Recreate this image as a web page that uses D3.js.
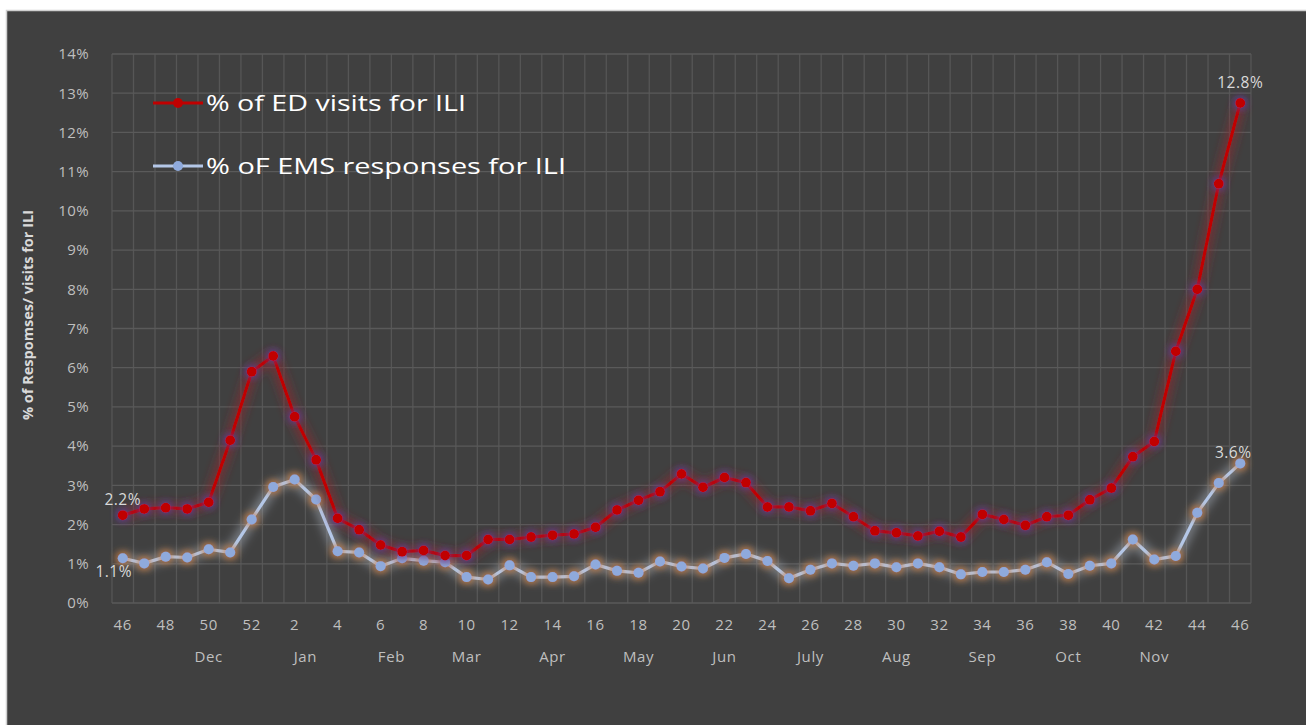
<!DOCTYPE html>
<html>
<head>
<meta charset="utf-8">
<script src="https://cdn.jsdelivr.net/npm/d3@7/dist/d3.min.js"></script>
<style>
  body { margin: 0; background: #ffffff; }
  #chart-area svg { display: block; }
</style>
</head>
<body>
<div id="chart-area"></div>
<script>
// weeks 46..52 of last year, then 1..46
const weeks = [46, 47, 48, 49, 50, 51, 52, 1, 2, 3, 4, 5, 6, 7, 8, 9, 10, 11, 12, 13, 14, 15,
    16, 17, 18, 19, 20, 21, 22, 23, 24, 25, 26, 27, 28, 29, 30, 31, 32, 33, 34, 35, 36, 37,
    38, 39, 40, 41, 42, 43, 44, 45, 46]

// % of ED visits for ILI
const edVisits = [2.24, 2.40, 2.43, 2.40, 2.57, 4.15, 5.90, 6.30, 4.75, 3.65, 2.16, 1.87, 1.48,
    1.31, 1.34, 1.21, 1.21, 1.62, 1.62, 1.68, 1.73, 1.76, 1.93, 2.37, 2.62, 2.84, 3.29, 2.95,
    3.20, 3.07, 2.45, 2.45, 2.35, 2.54, 2.20, 1.84, 1.79, 1.71, 1.83, 1.68, 2.26, 2.13, 1.98,
    2.20, 2.24, 2.63, 2.93, 3.73, 4.12, 6.42, 8.00, 10.69, 12.75]

// % of EMS responses for ILI
const emsResponses = [1.14, 1.01, 1.18, 1.16, 1.37, 1.29, 2.13, 2.96, 3.15, 2.64, 1.32, 1.29, 0.94,
    1.14, 1.08, 1.04, 0.66, 0.60, 0.96, 0.66, 0.66, 0.68, 0.98, 0.82, 0.77, 1.06, 0.93, 0.88,
    1.15, 1.25, 1.07, 0.63, 0.85, 1.01, 0.95, 1.01, 0.91, 1.01, 0.91, 0.73, 0.79, 0.79, 0.85,
    1.04, 0.74, 0.95, 1.01, 1.62, 1.11, 1.20, 2.30, 3.06, 3.56]

// month names and the week index each one sits under
const months = ["Dec", "Jan", "Feb", "Mar", "Apr", "May", "Jun", "July", "Aug", "Sep", "Oct", "Nov"]
const monthMid = [4, 8.5, 12.5, 16, 20, 24, 28, 32, 36, 40, 44, 48]

const yTicks = [0, 1, 2, 3, 4, 5, 6, 7, 8, 9, 10, 11, 12, 13, 14]

const W = 1306, H = 725
const MARGIN = { LEFT: 112, RIGHT: 55, TOP: 54, BOTTOM: 122 }
const WIDTH = W - MARGIN.LEFT - MARGIN.RIGHT
const HEIGHT = H - MARGIN.TOP - MARGIN.BOTTOM

const RED = "#c00000"
const BLUE_LINE = "#b4c7e7"
const BLUE_DOT = "#8faadc"
const FONT = "'Open Sans', 'Noto Sans', sans-serif"
const TICK_COLOR = "#bfbfbf"

const svg = d3.select("#chart-area").append("svg")
    .attr("width", W)
    .attr("height", H)

// glow filters
const defs = svg.append("defs")
function glow(id, color, opacity, r, sd) {
    const f = defs.append("filter").attr("id", id)
        .attr("x", "-20%").attr("y", "-20%").attr("width", "140%").attr("height", "140%")
    f.append("feMorphology").attr("in", "SourceAlpha").attr("operator", "dilate").attr("radius", r).attr("result", "d")
    f.append("feGaussianBlur").attr("in", "d").attr("stdDeviation", sd).attr("result", "b")
    f.append("feFlood").attr("flood-color", color).attr("flood-opacity", opacity)
    f.append("feComposite").attr("in2", "b").attr("operator", "in").attr("result", "g")
    const m = f.append("feMerge")
    m.append("feMergeNode").attr("in", "g")
    m.append("feMergeNode").attr("in", "SourceGraphic")
}
glow("glowRed", "#8a2a30", 0.7, 3, 5)
glow("glowRedDot", "#5b40a8", 0.6, 2, 3)
glow("glowBlue", "#c9d3e3", 0.4, 3, 5)
glow("glowBlueDot", "#d07a35", 0.7, 2, 3)

// chart background + border
svg.append("rect")
    .attr("x", 6.5).attr("y", 10.5)
    .attr("width", W).attr("height", H)
    .attr("fill", "#404040")
    .attr("stroke", "#d0d0d0")
    .attr("stroke-width", 1.5)

const g = svg.append("g")
    .attr("transform", `translate(${MARGIN.LEFT}, ${MARGIN.TOP})`)

const idx = weeks.map((d, i) => i)

const x = d3.scaleBand()
    .domain(idx)
    .range([0, WIDTH])

const y = d3.scaleLinear()
    .domain([0, 14])
    .range([HEIGHT, 0])

const cx = i => x(i) + x.bandwidth() / 2

// gridlines
g.append("g").attr("class", "grid")
    .selectAll("line.v")
    .data(idx.concat([idx.length]))
    .enter().append("line")
    .attr("x1", i => i * x.step()).attr("x2", i => i * x.step())
    .attr("y1", 0).attr("y2", HEIGHT)
    .attr("stroke", "#565656").attr("stroke-width", 1.3)

g.append("g").attr("class", "grid")
    .selectAll("line.h")
    .data(yTicks)
    .enter().append("line")
    .attr("x1", 0).attr("x2", WIDTH)
    .attr("y1", d => y(d)).attr("y2", d => y(d))
    .attr("stroke", "#5a5a5a").attr("stroke-width", 1.3)

// Y axis
const yAxisCall = d3.axisLeft(y).tickValues(yTicks).tickFormat(d => d + "%").tickSize(0).tickPadding(23)
g.append("g")
    .attr("class", "y axis")
    .call(yAxisCall)
    .call(a => a.select(".domain").remove())
    .selectAll("text")
        .attr("fill", TICK_COLOR)
        .attr("font-size", "15px")
        .attr("font-family", FONT)
        .attr("letter-spacing", "0.4px")

// X axis
const xAxisCall = d3.axisBottom(x)
    .tickValues(idx.filter(i => i % 2 === 0))
    .tickFormat(i => weeks[i])
    .tickSize(0).tickPadding(16)
g.append("g")
    .attr("class", "x axis")
    .attr("transform", `translate(0, ${HEIGHT})`)
    .call(xAxisCall)
    .call(a => a.select(".domain").remove())
    .selectAll("text")
        .attr("fill", TICK_COLOR)
        .attr("font-size", "15px")
        .attr("font-family", FONT)
        .attr("letter-spacing", "0.6px")

// month labels
g.selectAll("text.month")
    .data(months)
    .enter().append("text")
    .attr("class", "month")
    .attr("x", (d, i) => x.step() * (monthMid[i] + 0.5))
    .attr("y", HEIGHT + 59)
    .attr("text-anchor", "middle")
    .attr("fill", TICK_COLOR)
    .attr("font-size", "15px")
    .attr("font-family", FONT)
    .attr("letter-spacing", "0.6px")
    .text(d => d)

// Y label
svg.append("text")
    .attr("class", "y axis-label")
    .attr("x", -315)
    .attr("y", 33)
    .attr("font-size", "14px")
    .attr("font-weight", "bold")
    .attr("font-family", "'Liberation Sans Narrow', 'Open Sans', sans-serif")
    .attr("fill", "#d9d9d9")
    .attr("text-anchor", "middle")
    .attr("textLength", 210)
    .attr("lengthAdjust", "spacingAndGlyphs")
    .attr("transform", "rotate(-90)")
    .text("% of Respomses/ visits for ILI")

// lines
const line = v => d3.line().x((d, i) => cx(i)).y(d => y(d))(v)

g.append("path")
    .attr("d", line(emsResponses))
    .attr("fill", "none")
    .attr("stroke", BLUE_LINE)
    .attr("stroke-width", 3.2)
    .attr("filter", "url(#glowBlue)")

g.append("g").attr("filter", "url(#glowBlueDot)")
    .selectAll("circle")
    .data(emsResponses)
    .enter().append("circle")
    .attr("cx", (d, i) => cx(i))
    .attr("cy", d => y(d))
    .attr("r", 5)
    .attr("fill", BLUE_DOT)

g.append("path")
    .attr("d", line(edVisits))
    .attr("fill", "none")
    .attr("stroke", RED)
    .attr("stroke-width", 3.2)
    .attr("filter", "url(#glowRed)")

g.append("g").attr("filter", "url(#glowRedDot)")
    .selectAll("circle")
    .data(edVisits)
    .enter().append("circle")
    .attr("cx", (d, i) => cx(i))
    .attr("cy", d => y(d))
    .attr("r", 5)
    .attr("fill", RED)

// data labels on first and last points
const last = weeks.length - 1
const labels = [
    { v: edVisits[0], i: 0, dx: 0, dy: -10 },
    { v: emsResponses[0], i: 0, dx: -9, dy: 19 },
    { v: edVisits[last], i: last, dx: 0, dy: -15 },
    { v: emsResponses[last], i: last, dx: -7, dy: -5 }
]
g.selectAll("text.dlabel")
    .data(labels)
    .enter().append("text")
    .attr("class", "dlabel")
    .attr("x", d => cx(d.i) + d.dx)
    .attr("y", d => y(d.v) + d.dy)
    .attr("text-anchor", "middle")
    .attr("fill", "#d9d9d9")
    .attr("font-size", "15.5px")
    .attr("font-family", FONT)
    .attr("letter-spacing", "0.5px")
    .text(d => d.v.toFixed(1) + "%")

// Legend
const legend = [
    { name: "% of ED visits for ILI", stroke: RED, dot: RED, len: 260 },
    { name: "% oF EMS responses for ILI", stroke: BLUE_LINE, dot: BLUE_DOT, len: 360 }
]
const lg = svg.append("g").attr("transform", "translate(153, 103)")
legend.forEach((d, k) => {
    const row = lg.append("g").attr("transform", `translate(0, ${k * 63})`)
    row.append("line")
        .attr("x1", 0).attr("x2", 50)
        .attr("stroke", d.stroke).attr("stroke-width", 3.2)
    row.append("circle")
        .attr("cx", 25).attr("r", 5).attr("fill", d.dot)
    row.append("text")
        .attr("x", 53).attr("y", 7.5)
        .attr("fill", "#ffffff")
        .attr("font-size", "21px")
        .attr("font-family", FONT)
        .attr("textLength", d.len)
        .attr("lengthAdjust", "spacingAndGlyphs")
        .text(d.name)
})
</script>
</body>
</html>
